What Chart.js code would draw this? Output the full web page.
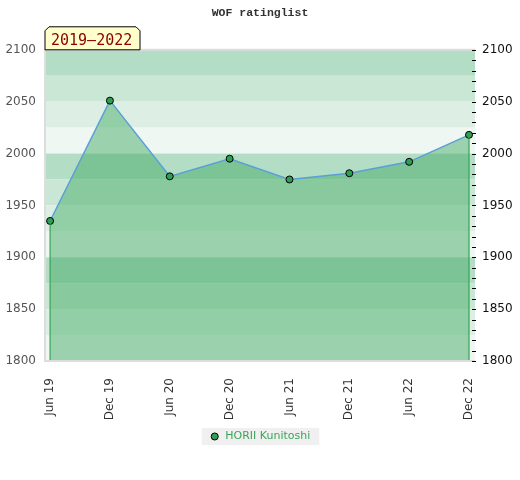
<!DOCTYPE html>
<html>
<head>
<meta charset="utf-8">
<script src="https://cdn.jsdelivr.net/npm/chart.js@4/dist/chart.umd.min.js"></script>
<style>
  html, body { margin: 0; padding: 0; background: #fff; }
  #wrap { position: relative; width: 520px; height: 480px; }
</style>
</head>
<body>
<div id="wrap"><canvas id="ratingChart"></canvas></div>
<script>
// chart values
const months = ["Jun 19", "Dec 19", "Jun 20", "Dec 20", "Jun 21", "Dec 21", "Jun 22", "Dec 22"];
const ratings = [1935, 2051, 1978, 1995, 1975, 1981, 1992, 2018];
const playerName = "HORII Kunitoshi";
const periodLabel = "2019–2022";
const yMin = 1800;
const yMax = 2100;

const bandColors = ["#b3ddc4", "#c9e7d4", "#ddefe4", "#eef7f1"];
const green = "#33a352";

const points = ratings.map((r, i) => ({x: i, y: r}));
const last = ratings.length - 1;

// background bands, frame and little ticks on the right side
const decor = {
  id: "decor",
  beforeDraw(chart) {
    const ctx = chart.ctx;
    const lg = chart.legend;
    if (lg && lg.legendHitBoxes && lg.legendHitBoxes.length) {
      const hb = lg.legendHitBoxes[0];
      ctx.save();
      ctx.fillStyle = "#f0f0f0";
      ctx.fillRect(hb.left - 8, hb.top - 3, hb.width + 17, hb.height + 6);
      ctx.restore();
    }
  },
  beforeDatasetsDraw(chart) {
    const {ctx, chartArea: a, scales: {y}} = chart;
    ctx.save();
    let k = 0;
    for (let v = yMax; v > yMin; v -= 25) {
      const top = y.getPixelForValue(v);
      const bot = y.getPixelForValue(v - 25);
      ctx.fillStyle = bandColors[k % 4];
      ctx.fillRect(a.left, top, a.right - a.left, bot - top);
      k++;
    }
    ctx.restore();
  },
  afterDraw(chart) {
    const {ctx, chartArea: a, scales: {y2}} = chart;
    ctx.save();
    ctx.strokeStyle = "#dddddd";
    ctx.lineWidth = 2;
    ctx.beginPath();
    ctx.moveTo(a.right, a.top);
    ctx.lineTo(a.left, a.top);
    ctx.lineTo(a.left, a.bottom);
    ctx.lineTo(a.right, a.bottom);
    ctx.stroke();

    ctx.strokeStyle = "#000";
    ctx.lineWidth = 1;
    y2.ticks.forEach(t => {
      const py = Math.round(y2.getPixelForValue(t.value)) + 0.5;
      ctx.beginPath();
      ctx.moveTo(a.right - 3, py);
      ctx.lineTo(a.right + 1, py);
      ctx.stroke();
    });

    // period tag
    const l = a.left, r = l + 95, t = a.top - 23, b = a.top, c = 4;
    ctx.beginPath();
    ctx.moveTo(l, b);
    ctx.lineTo(l, t + c);
    ctx.lineTo(l + c, t);
    ctx.lineTo(r - c, t);
    ctx.lineTo(r, t + c);
    ctx.lineTo(r, b);
    ctx.closePath();
    ctx.fillStyle = "#ffffcc";
    ctx.fill();
    ctx.strokeStyle = "#000";
    ctx.stroke();
    ctx.fillStyle = "#8b0000";
    ctx.font = "15px 'DejaVu Sans Mono'";
    ctx.textBaseline = "middle";
    ctx.fillText(periodLabel, l + 6, (t + b) / 2 + 2.5);
    ctx.restore();
  }
};

new Chart(document.getElementById("ratingChart"), {
  type: "line",
  data: {
    datasets: [
      {
        label: playerName,
        data: points,
        borderColor: "#5a9fd8",
        borderWidth: 1.5,
        backgroundColor: "rgba(65,170,99,0.48)",
        fill: "start",
        tension: 0,
        pointRadius: 3.5,
        pointBackgroundColor: "#2e9e55",
        pointBorderColor: "#000",
        pointBorderWidth: 1,
        order: 1
      },
      {
        label: "edgeL",
        data: [{x: 0, y: yMin}, {x: 0, y: ratings[0]}],
        borderColor: green,
        borderWidth: 1.2,
        pointRadius: 0,
        fill: false,
        order: 0
      },
      {
        label: "edgeR",
        data: [{x: last, y: yMin}, {x: last, y: ratings[last]}],
        borderColor: green,
        borderWidth: 1.2,
        pointRadius: 0,
        fill: false,
        order: 0
      }
    ]
  },
  options: {
    responsive: true,
    maintainAspectRatio: false,
    animation: false,
    layout: {padding: {top: 0, bottom: 28, left: 0, right: 0}},
    scales: {
      x: {
        type: "linear",
        min: -0.085,
        max: last + 0.1,
        afterBuildTicks: s => { s.ticks = months.map((m, i) => ({value: i})); },
        afterFit: s => { s.height = 60; },
        grid: {display: false},
        border: {display: false},
        ticks: {
          callback: v => months[v],
          minRotation: 90,
          maxRotation: 90,
          autoSkip: false,
          padding: 9,
          color: "#333",
          font: {family: "DejaVu Sans", size: 12}
        }
      },
      y: {
        position: "left",
        min: yMin,
        max: yMax,
        afterFit: s => { s.width = 45; },
        grid: {display: false, drawTicks: false},
        border: {display: false},
        ticks: {
          stepSize: 50,
          padding: 9,
          callback: v => String(v),
          color: "#555",
          font: {family: "DejaVu Sans", size: 12}
        }
      },
      y2: {
        position: "right",
        min: yMin,
        max: yMax,
        afterFit: s => { s.width = 45; },
        grid: {display: false, drawTicks: false},
        border: {display: false},
        ticks: {
          stepSize: 10,
          autoSkip: false,
          padding: 7,
          callback: v => (v % 50 === 0 ? String(v) : ""),
          color: "#111",
          font: {family: "DejaVu Sans", size: 12}
        }
      }
    },
    plugins: {
      title: {
        display: true,
        text: "WOF ratinglist",
        color: "#333",
        font: {family: "Liberation Mono", size: 11.5, weight: "bold"},
        padding: {top: 6, bottom: 30}
      },
      legend: {
        position: "bottom",
        labels: {
          filter: item => item.datasetIndex === 0,
          usePointStyle: true,
          pointStyle: "circle",
          boxWidth: 10,
          boxHeight: 5,
          color: "#3aa55a",
          padding: 10,
          font: {family: "DejaVu Sans", size: 11}
        }
      },
      tooltip: {enabled: false}
    }
  },
  plugins: [decor]
});
</script>
</body>
</html>
